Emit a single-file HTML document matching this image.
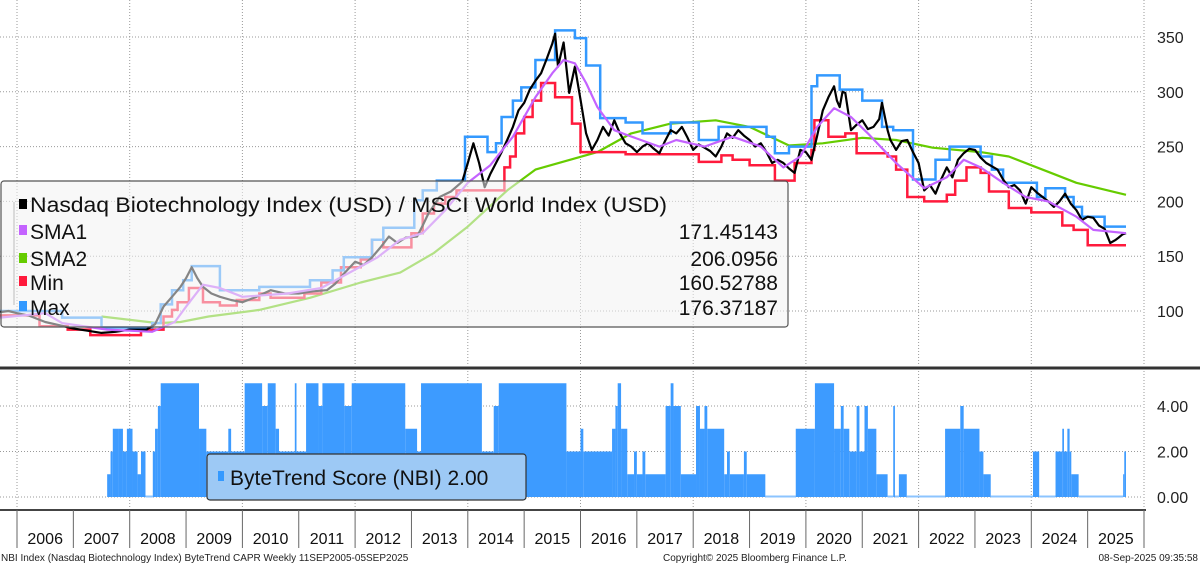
<!DOCTYPE html>
<html><head><meta charset="utf-8">
<style>
html,body{margin:0;padding:0;background:#fff;}
svg{display:block;font-family:"Liberation Sans",sans-serif;}
</style></head>
<body>
<svg id="chart" width="1200" height="566" viewBox="0 0 1200 566" xmlns="http://www.w3.org/2000/svg">
<g id="grid"></g>
<g id="series"></g>
<g id="score"></g>
<g id="axes"></g>
<g id="legend">
  <rect x="1" y="181" width="787" height="146" rx="3" fill="rgba(242,242,242,0.55)" stroke="#555" stroke-width="1.2"/>
  <line x1="14" y1="202" x2="14" y2="305" stroke="#bbb" stroke-width="1"/>
  <rect x="19" y="199" width="8" height="10" fill="#000"/>
  <text x="30" y="212" font-size="21" fill="#111" textLength="637" lengthAdjust="spacingAndGlyphs">Nasdaq Biotechnology Index (USD) / MSCI World Index (USD)</text>
  <rect x="19" y="225" width="8" height="10" fill="#c463ff"/>
  <text x="30" y="239" font-size="21" fill="#111">SMA1</text>
  <text x="778" y="239" font-size="21" fill="#111" text-anchor="end">171.45143</text>
  <rect x="19" y="253" width="8" height="10" fill="#66cc00"/>
  <text x="30" y="266" font-size="21" fill="#111">SMA2</text>
  <text x="778" y="266" font-size="21" fill="#111" text-anchor="end">206.0956</text>
  <rect x="19" y="276" width="8" height="10" fill="#ff1a3c"/>
  <text x="30" y="290" font-size="21" fill="#111">Min</text>
  <text x="778" y="290" font-size="21" fill="#111" text-anchor="end">160.52788</text>
  <rect x="19" y="301" width="8" height="10" fill="#3399ff"/>
  <text x="30" y="315" font-size="21" fill="#111">Max</text>
  <text x="778" y="315" font-size="21" fill="#111" text-anchor="end">176.37187</text>
</g>
<g id="legend2">
  <rect x="207" y="454" width="319" height="46" rx="3" fill="#9dc9f5" stroke="#333" stroke-width="1.2"/>
  <rect x="218" y="471" width="6" height="10" fill="#3399ff"/>
  <text x="230" y="485" font-size="21" fill="#111">ByteTrend Score (NBI) 2.00</text>
</g>
<g>
  <text x="1" y="561" font-size="10" fill="#222">NBI Index (Nasdaq Biotechnology Index) ByteTrend CAPR  Weekly 11SEP2005-05SEP2025</text>
  <text x="663" y="561" font-size="10" fill="#222">Copyright© 2025 Bloomberg Finance L.P.</text>
  <text x="1198" y="561" font-size="10" fill="#222" text-anchor="end">08-Sep-2025 09:35:58</text>
</g>
</svg>
<script>
const blackT=[2005.7,2005.85,2006.0,2006.2,2006.5,2006.75,2007.0,2007.25,2007.5,2007.75,2008.0,2008.3,2008.45,2008.6,2008.75,2008.9,2009.0,2009.1,2009.2,2009.3,2009.45,2009.6,2009.8,2010.0,2010.25,2010.5,2010.75,2011.0,2011.25,2011.5,2011.65,2011.8,2012.0,2012.15,2012.3,2012.45,2012.6,2012.75,2012.9,2013.1,2013.2,2013.3,2013.5,2013.7,2013.9,2014.0,2014.1,2014.2,2014.3,2014.4,2014.5,2014.6,2014.7,2014.8,2014.9,2015.0,2015.1,2015.2,2015.3,2015.4,2015.5,2015.55,2015.6,2015.7,2015.8,2015.9,2016.0,2016.1,2016.2,2016.3,2016.4,2016.5,2016.6,2016.7,2016.8,2016.9,2017.0,2017.1,2017.2,2017.3,2017.4,2017.5,2017.6,2017.7,2017.8,2017.9,2018.0,2018.1,2018.2,2018.3,2018.4,2018.5,2018.6,2018.7,2018.8,2018.9,2019.0,2019.1,2019.2,2019.3,2019.4,2019.5,2019.6,2019.7,2019.8,2019.9,2020.0,2020.1,2020.2,2020.3,2020.4,2020.5,2020.55,2020.6,2020.65,2020.7,2020.8,2020.9,2021.0,2021.1,2021.2,2021.3,2021.35,2021.45,2021.5,2021.6,2021.7,2021.8,2021.9,2022.0,2022.1,2022.2,2022.3,2022.4,2022.5,2022.6,2022.7,2022.8,2022.9,2023.0,2023.1,2023.2,2023.3,2023.4,2023.5,2023.6,2023.7,2023.8,2023.9,2024.0,2024.1,2024.2,2024.3,2024.4,2024.5,2024.6,2024.7,2024.8,2024.9,2025.0,2025.1,2025.2,2025.3,2025.4,2025.5,2025.55,2025.62,2025.68];
const blackV=[99,100,98,96,90,87,84,82,80,81,83,83,88,104,113,122,130,140,130,122,116,113,110,108,113,119,116,116,118,119,125,134,145,142,149,158,168,162,167,168,178,189,204,209,218,235,253,235,213,225,235,245,256,268,283,290,302,310,317,330,344,353,323,345,299,323,293,262,247,256,268,260,274,262,253,250,245,250,253,248,244,255,265,262,268,258,247,252,249,246,241,250,262,258,265,260,256,250,253,245,235,238,235,230,226,247,245,238,260,283,295,305,292,286,300,299,265,270,274,266,268,275,290,265,256,247,255,256,245,235,210,215,207,220,231,222,238,244,248,247,240,235,232,229,220,213,215,210,198,213,208,204,200,195,200,207,198,192,183,186,185,178,175,162,165,167,170,171];
const sma1T=[2005.7,2006.5,2006.8,2007.6,2008.4,2008.8,2009.0,2009.3,2009.6,2010.0,2010.8,2011.4,2011.9,2012.4,2012.8,2013.2,2013.6,2014.0,2014.4,2014.8,2015.2,2015.5,2015.7,2015.9,2016.1,2016.3,2016.6,2016.8,2017.4,2017.7,2018.2,2018.7,2019.2,2019.6,2019.9,2020.2,2020.5,2020.8,2021.1,2021.6,2022.1,2022.5,2022.8,2023.1,2023.5,2023.9,2024.3,2024.8,2025.1,2025.68];
const sma1V=[94,98,89,83,81,90,104,124,121,113,116,121,135,149,165,171,192,217,233,259,295,317,329,326,308,286,265,261,250,256,250,259,250,231,241,268,285,277,262,235,212,222,238,231,217,204,200,186,174,171];
const sma2T=[2007.5,2008.5,2008.9,2009.4,2010.3,2011.2,2012.1,2012.8,2013.4,2014.0,2014.7,2015.2,2016.3,2016.9,2017.6,2018.4,2019.0,2019.7,2020.3,2021.0,2021.6,2022.25,2023.1,2023.6,2024.3,2024.8,2025.68];
const sma2V=[95,89,90,95,101,112,126,135,153,177,210,229,245,262,271,274,268,251,253,258,256,249,245,241,227,217,206];
const maxT=[2005.7,2006.8,2007.5,2008.4,2008.55,2008.75,2008.95,2009.1,2009.6,2010.3,2011.2,2011.6,2011.8,2012.3,2012.5,2013.05,2013.2,2013.45,2013.95,2014.35,2014.5,2014.6,2014.8,2014.95,2015.2,2015.55,2015.9,2016.1,2016.35,2016.8,2017.1,2017.6,2018.1,2018.45,2019.3,2019.45,2019.7,2020.1,2020.2,2020.6,2021.0,2021.35,2021.55,2021.9,2022.3,2022.55,2023.1,2023.3,2023.5,2024.1,2024.25,2024.6,2024.75,2024.9,2025.3];
const maxV=[100,94,85,89,106,119,128,141,119,122,128,137,149,165,176,201,210,219,259,245,253,277,292,304,329,356,349,324,276,272,262,272,256,268,259,244,250,305,315,302,292,268,265,220,238,250,241,229,217,204,212,204,195,186,177];
const minT=[2005.7,2006.4,2006.9,2007.3,2008.2,2008.6,2008.75,2008.85,2009.05,2009.3,2009.6,2009.9,2010.3,2010.5,2011.1,2011.4,2011.75,2012.1,2012.3,2012.5,2013.0,2013.2,2013.4,2013.6,2013.8,2014.65,2014.75,2014.85,2015.0,2015.15,2015.3,2015.55,2015.85,2016.0,2016.8,2018.1,2018.5,2018.7,2019.0,2019.45,2019.8,2020.1,2020.15,2020.4,2020.7,2020.9,2021.45,2021.6,2021.8,2022.1,2022.5,2022.65,2022.85,2023.1,2023.25,2023.6,2024.0,2024.55,2024.75,2025.0];
const minV=[96,86,83,78,83,95,101,108,121,108,105,110,116,112,116,126,140,147,165,158,171,189,198,204,210,231,241,262,277,292,308,295,271,245,243,236,242,238,233,219,235,247,274,259,262,244,241,229,204,200,206,219,231,226,209,194,190,178,174,160];
const scoreT=[2007.60,2007.66,2007.70,2007.80,2007.88,2007.95,2008.05,2008.14,2008.20,2008.28,2008.41,2008.45,2008.50,2008.55,2009.23,2009.36,2009.75,2009.80,2010.04,2010.35,2010.45,2010.59,2010.65,2010.93,2010.96,2011.13,2011.35,2011.42,2011.81,2011.94,2012.89,2013.10,2013.17,2014.25,2014.46,2014.55,2015.75,2016.00,2016.05,2016.56,2016.62,2016.66,2016.72,2016.83,2016.95,2017.00,2017.10,2017.15,2017.51,2017.60,2017.65,2017.78,2018.05,2018.12,2018.20,2018.25,2018.55,2018.60,2018.65,2018.90,2018.95,2019.28,2019.82,2020.16,2020.50,2020.62,2020.67,2020.77,2020.90,2020.95,2021.04,2021.10,2021.25,2021.45,2021.55,2021.58,2021.65,2021.79,2022.47,2022.74,2022.80,2023.08,2023.15,2023.28,2024.03,2024.14,2024.43,2024.55,2024.58,2024.64,2024.68,2024.71,2024.84,2025.63,2025.65];
const scoreV=[1,2,3,3,2,3,2,1,2,0,2,3,4,5,3,2,3,2,5,4,5,3,2,5,2,5,4,5,4,5,3,2,5,2,4,5,2,3,2,3,4,5,3,1,2,1,2,1,4,5,4,1,4,3,4,3,1,2,1,2,1,0,3,5,3,4,3,2,4,2,4,3,1,0,4,0,1,0,3,4,3,2,1,0,2,0,2,3,2,3,2,1,0,1,2];
const scoreEnd=2025.68;
const priceTicks=[100,150,200,250,300,350];
const scoreTicks=[0,2,4];
const years=[2006,2007,2008,2009,2010,2011,2012,2013,2014,2015,2016,2017,2018,2019,2020,2021,2022,2023,2024,2025];

const NS="http://www.w3.org/2000/svg";
const X0=17, PX=56.35;
function x(t){return X0+(t-2006)*PX;}
function y(v){return 311-(v-100)*1.096;}
function ys(v){return 497-v*22.75;}
function mk(tag,attrs,parent){const e=document.createElementNS(NS,tag);for(const k in attrs)e.setAttribute(k,attrs[k]);parent.appendChild(e);return e;}
const grid=document.getElementById('grid'),ser=document.getElementById('series'),sc=document.getElementById('score'),ax=document.getElementById('axes');

priceTicks.forEach(v=>{
  const l=mk('line',{x1:0,x2:1143,y1:y(v),y2:y(v),stroke:'#9a9a9a','stroke-width':1,'stroke-dasharray':'1,2'},grid);
  
  
  const t=mk('text',{x:1157,y:y(v)+6,'font-size':16,fill:'#222'},ax);
  t.textContent=v;
  
  
});
scoreTicks.forEach(v=>{
  const l=mk('line',{x1:0,x2:1143,y1:ys(v),y2:ys(v),stroke:'#9a9a9a','stroke-width':1,'stroke-dasharray':'1,2'},grid);
  
  
  const t=mk('text',{x:1157,y:ys(v)+6,'font-size':16,fill:'#222'},ax);
  t.textContent=v.toFixed(2);
  
  
});
for(let yr=2006;yr<=2026;yr+=2){
  const gx=x(yr);
  const l=mk('line',{x1:gx,x2:gx,y1:0,y2:366,stroke:'#9a9a9a','stroke-width':1,'stroke-dasharray':'1,2'},grid);
  
  
  const l2=mk('line',{x1:gx,x2:gx,y1:371,y2:509,stroke:'#9a9a9a','stroke-width':1,'stroke-dasharray':'1,2'},grid);
  
  
}
for(let i=0;i<scoreT.length;i++){
  const t0=scoreT[i],t1=(i+1<scoreT.length)?scoreT[i+1]:scoreEnd,v=scoreV[i];
  if(v>0){
    const r=mk('rect',{x:x(t0),y:ys(v),width:Math.max(0.8,x(t1)-x(t0)),height:ys(0)-ys(v),fill:'#3d9bff'},sc);
    
    
  } else {
    const l=mk('line',{x1:x(t0),x2:x(t1),y1:ys(0)-0.5,y2:ys(0)-0.5,stroke:'#8cc4ff','stroke-width':2},sc);
    
    
  }
}
function poly(T,V,color,w,name){
  const p=T.map((t,i)=>x(t).toFixed(1)+','+y(V[i]).toFixed(1)).join(' ');
  const e=mk('polyline',{points:p,fill:'none',stroke:color,'stroke-width':w,'stroke-linejoin':'round'},ser);
  
  
}
function step(T,V,end,color,w,name){
  let d='M'+x(T[0]).toFixed(1)+','+y(V[0]).toFixed(1);
  for(let i=1;i<T.length;i++){d+=' H'+x(T[i]).toFixed(1)+' V'+y(V[i]).toFixed(1);}
  d+=' H'+x(end).toFixed(1);
  const e=mk('path',{d:d,fill:'none',stroke:color,'stroke-width':w},ser);
  
  
}
poly(sma2T,sma2V,'#66cc00',2.2,'sma2-line');
step(minT,minV,2025.68,'#ff1a3c',2.5,'min-line');
step(maxT,maxV,2025.68,'#3399ff',2.5,'max-line');
poly(blackT,blackV,'#000',2.2,'ratio-line');
poly(sma1T,sma1V,'#c463ff',2.2,'sma1-line');

const dv=mk('line',{x1:0,x2:1200,y1:368,y2:368,stroke:'#333','stroke-width':3},ax);


const xa=mk('line',{x1:0,x2:1146,y1:510,y2:510,stroke:'#444','stroke-width':2},ax);


years.forEach(yr=>{
  const l=mk('line',{x1:x(yr),x2:x(yr),y1:510,y2:548,stroke:'#666','stroke-width':1},ax);
  
  
  const t=mk('text',{x:x(yr+0.5),y:544,'font-size':16,fill:'#111','text-anchor':'middle'},ax);
  t.textContent=yr;
  
  
});
const lastSep=mk('line',{x1:x(2026),x2:x(2026),y1:510,y2:548,stroke:'#666','stroke-width':1},ax);


const svg=document.getElementById('chart');
svg.appendChild(document.getElementById('legend'));
svg.appendChild(document.getElementById('legend2'));
</script>
</body></html>
